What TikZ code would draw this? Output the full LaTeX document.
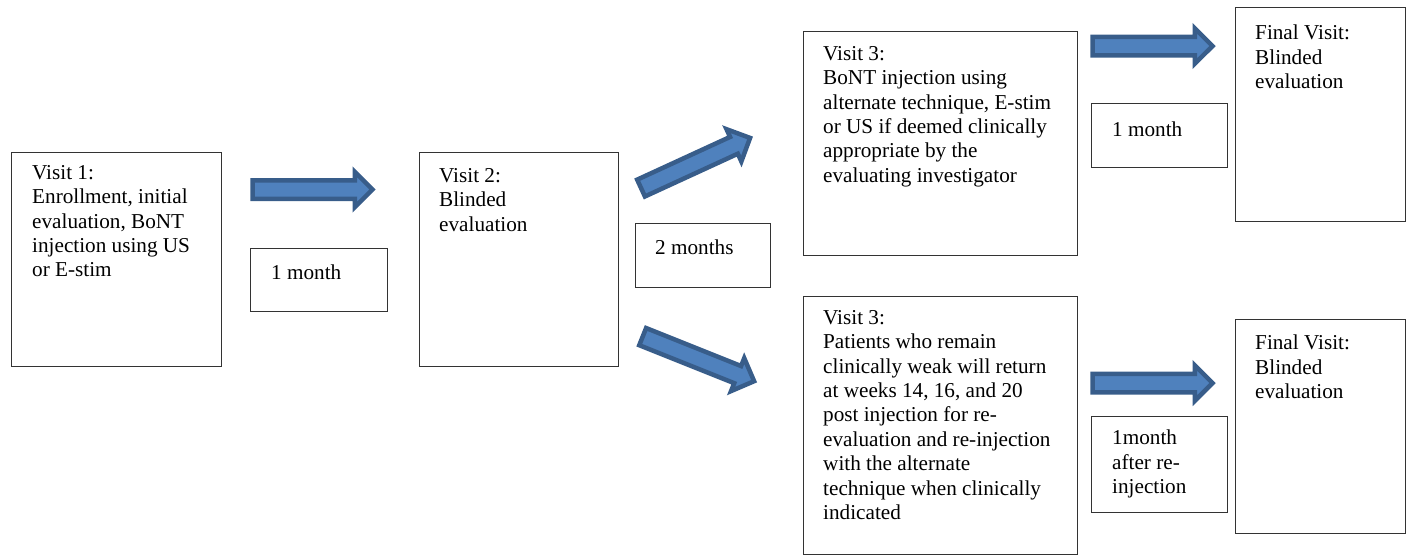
\documentclass[tikz,border=0pt]{standalone}
\usepackage{fontspec}
\setmainfont{Liberation Serif}
\usetikzlibrary{shapes.arrows}

\definecolor{arrowfill}{HTML}{4F81BD}
\definecolor{arrowline}{HTML}{385D8A}

\begin{document}
\begin{tikzpicture}[x=1pt,y=-1pt,
  box/.style={draw=black!80, line width=1pt, anchor=north west, inner sep=0pt},
  txt/.style={anchor=north west, inner sep=0pt, align=left, font=\fontsize{21.2}{24.4}\selectfont},
  blockarr/.style={single arrow, draw=arrowline, fill=arrowfill, line width=4.5pt, anchor=tail,
    minimum height=120pt, inner xsep=0pt, inner ysep=7pt, single arrow head extend=8.5pt}]
  \useasboundingbox (0,0) rectangle (1410,554);

  % visit boxes
  \node[box, minimum width=210pt, minimum height=214pt] (v1) at (11,152) {};
  \node[box, minimum width=199pt, minimum height=214pt] (v2) at (419,152) {};
  \node[box, minimum width=274pt, minimum height=224pt] (v3a) at (803,31) {};
  \node[box, minimum width=274pt, minimum height=258pt] (v3b) at (803,296) {};
  \node[box, minimum width=170pt, minimum height=214pt] (fina) at (1235,7) {};
  \node[box, minimum width=170pt, minimum height=214pt] (finb) at (1235,319) {};

  % interval boxes
  \node[box, minimum width=137pt, minimum height=63pt] (m1) at (250,248) {};
  \node[box, minimum width=135pt, minimum height=64pt] (m2) at (635,223) {};
  \node[box, minimum width=136pt, minimum height=64pt] (m3a) at (1091,103) {};
  \node[box, minimum width=136pt, minimum height=96pt] (m3b) at (1091,416) {};

  % texts
  \node[txt] (v1t) at ([shift={(21,13)}]v1.north west) {Visit 1:\\Enrollment, initial\\evaluation, BoNT\\injection using US\\or E-stim};
  \node[txt] (v2t) at ([shift={(20,16)}]v2.north west) {Visit 2:\\Blinded\\evaluation};
  \node[txt] (v3at) at ([shift={(20,15)}]v3a.north west) {Visit 3:\\BoNT injection using\\alternate technique, E-stim\\or US if deemed clinically\\appropriate by the\\evaluating investigator};
  \node[txt] (v3bt) at ([shift={(20,14)}]v3b.north west) {Visit 3:\\Patients who remain\\clinically weak will return\\at weeks 14, 16, and 20\\post injection for re-\\evaluation and re-injection\\with the alternate\\technique when clinically\\indicated};
  \node[txt] (finat) at ([shift={(20,18)}]fina.north west) {Final Visit:\\Blinded\\evaluation};
  \node[txt] (finbt) at ([shift={(20,16)}]finb.north west) {Final Visit:\\Blinded\\evaluation};
  \node[txt] (m1t) at ([shift={(21,17)}]m1.north west) {1 month};
  \node[txt] (m2t) at ([shift={(20,17)}]m2.north west) {2 months};
  \node[txt] (m3at) at ([shift={(21,19)}]m3a.north west) {1 month};
  \node[txt] (m3bt) at ([shift={(21,14)}]m3b.north west) {1month\\after re-\\injection};

  % block arrows
  \node[blockarr] (a1) at (250.3,189.5) {};
  \node[blockarr, rotate=24.7] (a2up) at (639,189) {};
  \node[blockarr, rotate=-21.8] (a2dn) at (640.6,335.8) {};
  \node[blockarr] (a3a) at (1090.3,46) {};
  \node[blockarr] (a3b) at (1090.3,383) {};
\end{tikzpicture}
\end{document}
